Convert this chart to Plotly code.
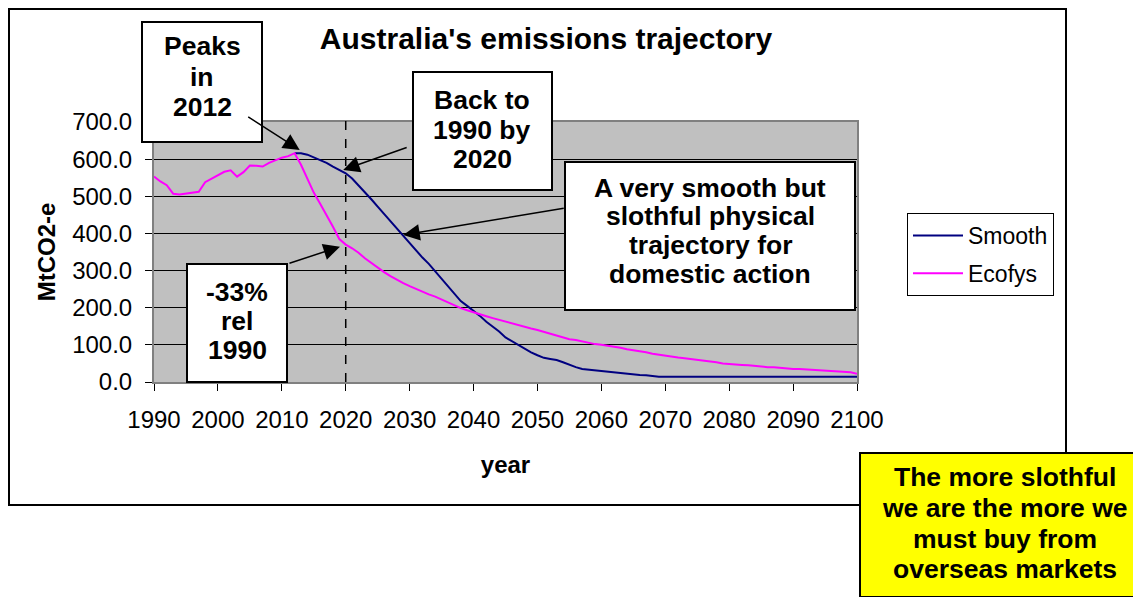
import plotly.graph_objects as go

# ---------------- data ----------------
ecofys_years = list(range(1990, 2101))
ecofys_values = [
    553, 540, 530, 507, 505, 507, 510, 512, 538, 548,   # 1990-1999
    558, 566, 570, 553, 565, 583, 582, 580, 590, 598,   # 2000-2009
    604, 608, 616, 585, 545, 510, 480, 450, 418, 385,   # 2010-2019
    370, 360, 348, 333, 320, 308, 296, 285, 275, 266,   # 2020-2029
    258, 250, 243, 236, 230, 222, 214, 206, 199, 193,   # 2030-2039
    187, 182, 177, 172, 167, 162, 157, 153, 148, 144,   # 2040-2049
    140, 135, 129, 123, 118, 115, 113, 109, 105, 102,   # 2050-2059
    100, 98, 95, 92, 88, 86, 83, 80, 76, 73,            # 2060-2069
    70, 68, 66, 64, 62, 61, 59, 56, 53, 50,             # 2070-2079
    48, 47, 46, 45, 43, 41, 40, 40, 38, 37,             # 2080-2089
    35, 35, 34, 33, 32, 30, 30, 29, 28, 26,             # 2090-2099
    22,                                                 # 2100
]

smooth_years = list(range(2012, 2101))
smooth_values = [
    616, 616, 612, 605, 598, 590, 580, 570,             # 2012-2019
    562, 548, 530, 510, 492, 472, 452, 432, 412, 394,   # 2020-2029
    374, 352, 335, 318, 298, 275, 256, 238, 218, 205,   # 2030-2039
    192, 178, 162, 149, 136, 120, 110, 98, 90, 80,      # 2040-2049
    72, 65, 62, 59, 53, 46, 40, 35, 33, 31,             # 2050-2059
    30, 27, 25, 24, 22, 20, 19, 18, 16, 14,             # 2060-2069
    14, 14, 14, 14, 14, 14, 14, 14, 14, 14,             # 2070-2079
    14, 14, 14, 14, 14, 14, 14, 14, 14, 14,             # 2080-2089
    14, 14, 14, 14, 14, 14, 14, 14, 14, 14,             # 2090-2099
    14,                                                 # 2100
]

x_tick_values = list(range(1990, 2101, 10))
y_tick_values = list(range(0, 701, 100))
marker_year = 2020

# ---------------- layout geometry (window pixels) ----------------
WIN_W, WIN_H = 1141, 597
OFF = 8                                  # browser body margin
W, H = WIN_W - OFF, WIN_H - OFF
PL, PR, PT, PB = 154, 857, 122, 382      # plot area in window pixels
FONT = "Liberation Sans, Arial, sans-serif"


def px_to_paper(px, py):
    return (px - PL) / (PR - PL), (PB - py) / (PB - PT)


fig = go.Figure()
fig.add_trace(go.Scatter(x=smooth_years, y=smooth_values, mode="lines", name="Smooth",
                         line=dict(color="#000080", width=2), legendgroup="a"))
fig.add_trace(go.Scatter(x=ecofys_years, y=ecofys_values, mode="lines", name="Ecofys",
                         line=dict(color="#FF00FF", width=2), legendgroup="b"))

shapes = []
annotations = []

# outer chart border
x0, y0 = px_to_paper(OFF + 1, OFF + 1)
x1, y1 = px_to_paper(1066, 505)
shapes.append(dict(type="rect", xref="paper", yref="paper", x0=x0, y0=y0, x1=x1, y1=y1,
                   line=dict(color="black", width=2), fillcolor="rgba(0,0,0,0)", layer="below"))

# dashed 2020 line
_, ytop = px_to_paper(0, 112)
shapes.append(dict(type="line", xref="x", yref="paper", x0=marker_year, x1=marker_year,
                   y0=0, y1=ytop, line=dict(color="black", width=1.5, dash="dash"), layer="above"))

# text boxes
boxes = [
    dict(lines=["Peaks", "in", "2012"], rect=(142, 22, 262, 142), cx=202,
         ys=[46, 77, 107], bg="white"),
    dict(lines=["Back to", "1990 by", "2020"], rect=(413, 72, 552, 190), cx=482,
         ys=[100, 130, 159], bg="white"),
    dict(lines=["A very smooth but", "slothful physical", "trajectory for", "domestic action"],
         rect=(565, 162, 855, 310), cx=710, ys=[188, 216, 245, 274], bg="white"),
    dict(lines=["-33%", "rel", "1990"], rect=(187, 264, 287, 382), cx=237,
         ys=[292, 321, 350], bg="white"),
    dict(lines=["The more slothful", "we are the more we", "must buy from", "overseas markets"],
         rect=(860, 453, 1140, 597), cx=1005, ys=[477, 508, 539, 569], bg="#FFFF00"),
]
for b in boxes:
    rx0, ry0, rx1, ry1 = b["rect"]
    a0, b0 = px_to_paper(rx0, ry0)
    a1, b1 = px_to_paper(rx1, ry1)
    shapes.append(dict(type="rect", xref="paper", yref="paper", x0=a0, y0=b0, x1=a1, y1=b1,
                       line=dict(color="black", width=2), fillcolor=b["bg"], layer="above"))
    for txt, ly in zip(b["lines"], b["ys"]):
        ax_, ay_ = px_to_paper(b["cx"], ly)
        annotations.append(dict(text="<b>" + txt + "</b>", xref="paper", yref="paper",
                                x=ax_, y=ay_, xanchor="center", yanchor="middle",
                                showarrow=False, font=dict(family=FONT, size=26.5, color="black")))

# arrows: head in data coords, tail offset in pixels
arrows = [
    dict(x=2012.8, y=624.6, ax=-53, ay=-34),
    dict(x=2019.6, y=570.8, ax=65, ay=-23),
    dict(x=2029.0, y=395.8, ax=162, ay=-27),
    dict(x=2019.1, y=364.3, ax=-52, ay=17),
]
for a in arrows:
    annotations.append(dict(text="", x=a["x"], y=a["y"], xref="x", yref="y",
                            ax=a["ax"], ay=a["ay"], showarrow=True, arrowhead=2,
                            arrowsize=2.2, arrowwidth=1.5, arrowcolor="black"))

fig.update_layout(
    width=W, height=H,
    margin=dict(l=PL - OFF, r=WIN_W - PR, t=PT - OFF, b=WIN_H - PB, pad=0),
    paper_bgcolor="white",
    plot_bgcolor="#C0C0C0",
    font=dict(family=FONT, color="black"),
    title=dict(text="<b>Australia's emissions trajectory</b>", xref="paper",
               x=px_to_paper(546, 0)[0], xanchor="center", yref="container",
               y=1 - (38 - OFF) / H, yanchor="middle",
               font=dict(family=FONT, size=30, color="black")),
    xaxis=dict(range=[1990, 2100], tickvals=x_tick_values, ticks="outside", ticklen=7,
               tickcolor="black", tickwidth=1, showgrid=False, zeroline=False,
               showline=True, linecolor="#808080", linewidth=2, mirror=True,
               tickfont=dict(family=FONT, size=24, color="black"), ticklabelstandoff=8,
               title=dict(text="<b>year</b>", font=dict(family=FONT, size=24, color="black"),
                          standoff=24)),
    yaxis=dict(range=[0, 700], tickvals=y_tick_values, tickformat=".1f", ticks="outside",
               ticklen=7, tickcolor="black", tickwidth=1, showgrid=True, gridcolor="black",
               gridwidth=1, zeroline=False, showline=True, linecolor="#808080", linewidth=2,
               mirror=True, tickfont=dict(family=FONT, size=24, color="black"),
               ticklabelstandoff=8,
               title=dict(text="<b>MtCO2-e</b>", font=dict(family=FONT, size=24, color="black"),
                          standoff=10)),
    legend=dict(x=px_to_paper(907, 0)[0], y=px_to_paper(0, 213)[1], xanchor="left",
                yanchor="top", bgcolor="white", bordercolor="black", borderwidth=1,
                font=dict(family=FONT, size=23, color="black"), traceorder="grouped",
                tracegroupgap=5, itemwidth=50),
    shapes=shapes,
    annotations=annotations,
    showlegend=True,
)

fig.write_html("out.html")
